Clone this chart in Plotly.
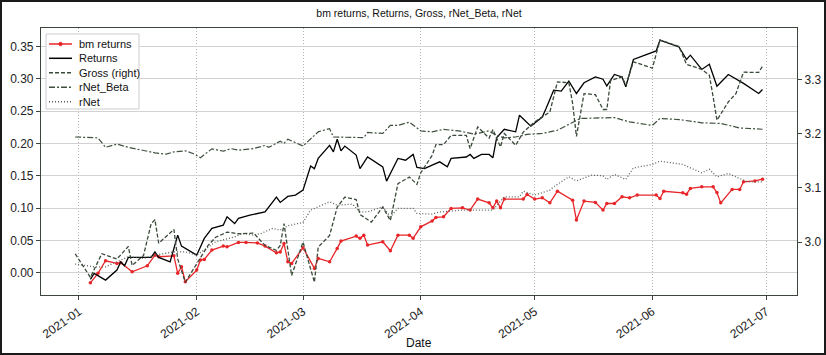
import plotly.graph_objects as go

# ---------------- data ----------------
bm_dates = ["2021-01-04","2021-01-06","2021-01-08","2021-01-11","2021-01-12","2021-01-15","2021-01-19","2021-01-21",
            "2021-01-22","2021-01-26","2021-01-27","2021-01-28","2021-01-29","2021-02-01","2021-02-02","2021-02-03",
            "2021-02-05","2021-02-08","2021-02-09","2021-02-12","2021-02-14","2021-02-17","2021-02-19","2021-02-22",
            "2021-02-23","2021-02-24","2021-02-25","2021-02-26","2021-03-01","2021-03-04","2021-03-05","2021-03-08",
            "2021-03-10","2021-03-11","2021-03-15","2021-03-16","2021-03-17","2021-03-18","2021-03-22","2021-03-24",
            "2021-03-26","2021-03-29","2021-03-30","2021-04-01","2021-04-04","2021-04-05","2021-04-07","2021-04-09",
            "2021-04-12","2021-04-14","2021-04-16","2021-04-19","2021-04-20","2021-04-21","2021-04-22","2021-04-23",
            "2021-04-28","2021-04-29","2021-05-01","2021-05-03","2021-05-05","2021-05-07","2021-05-11","2021-05-12",
            "2021-05-14","2021-05-17","2021-05-19","2021-05-20","2021-05-22","2021-05-24","2021-05-26","2021-05-28",
            "2021-06-02","2021-06-03","2021-06-04","2021-06-09","2021-06-10","2021-06-11","2021-06-14","2021-06-17",
            "2021-06-18","2021-06-19","2021-06-22","2021-06-24","2021-06-25","2021-06-28","2021-06-30"]
bm_returns = [-0.0158,-0.0012,0.0183,0.0142,0.0152,0.0012,0.0105,0.027,
              0.0245,0.026,-0.0012,0.009,-0.0142,0.0039,0.0194,0.0204,
              0.0348,0.041,0.040,0.0467,0.0467,0.046,0.041,0.0307,
              0.032,0.045,0.0167,0.0142,0.0384,0.0065,0.022,0.0167,
              0.0375,0.0488,0.0565,0.053,0.058,0.0426,0.0477,0.0338,
              0.058,0.058,0.053,0.0709,0.080,0.0854,0.0864,0.0994,
              0.1003,0.0968,0.1138,0.108,0.1003,0.111,0.1003,0.1138,
              0.1138,0.121,0.1138,0.1158,0.108,0.126,0.1122,0.0813,
              0.1107,0.1087,0.0968,0.107,0.107,0.1174,0.1158,0.120,
              0.120,0.1148,0.126,0.1235,0.1215,0.1303,0.1328,0.1328,
              0.124,0.108,0.1288,0.1288,0.1406,0.142,0.1447]

ret_dates = ["2021-01-04","2021-01-05","2021-01-08","2021-01-11","2021-01-12","2021-01-13","2021-01-14","2021-01-20",
             "2021-01-21","2021-01-22","2021-01-25","2021-01-27","2021-01-28","2021-02-01","2021-02-03","2021-02-05",
             "2021-02-08","2021-02-09","2021-02-11","2021-02-12","2021-02-15","2021-02-19","2021-02-22","2021-02-23",
             "2021-02-25","2021-02-27","2021-03-01","2021-03-03","2021-03-04","2021-03-05","2021-03-08","2021-03-09",
             "2021-03-10","2021-03-11","2021-03-12","2021-03-15","2021-03-16","2021-03-18","2021-03-22","2021-03-23",
             "2021-03-25","2021-03-26","2021-03-28","2021-03-30","2021-03-31","2021-04-02","2021-04-04","2021-04-06",
             "2021-04-08","2021-04-09","2021-04-13","2021-04-14","2021-04-15","2021-04-17","2021-04-19","2021-04-20",
             "2021-04-21","2021-04-23","2021-04-26","2021-04-27","2021-04-30","2021-05-03","2021-05-04","2021-05-06",
             "2021-05-08","2021-05-10","2021-05-12","2021-05-14","2021-05-17","2021-05-19","2021-05-20","2021-05-22",
             "2021-05-24","2021-05-25","2021-05-27","2021-06-02","2021-06-03","2021-06-08","2021-06-10","2021-06-11",
             "2021-06-14","2021-06-16","2021-06-18","2021-06-21","2021-06-25","2021-06-29","2021-06-30"]
returns = [-0.0105,-0.0013,-0.0116,0.0039,0.0167,0.0105,0.0235,0.0235,
           0.032,0.0235,0.0167,0.058,0.041,0.027,0.053,0.0684,
           0.0735,0.0864,0.076,0.084,0.089,0.094,0.117,0.1087,
           0.118,0.120,0.1277,0.165,0.161,0.1768,0.197,0.187,
           0.2066,0.1886,0.196,0.182,0.161,0.179,0.1638,0.1416,
           0.165,0.1768,0.174,0.183,0.163,0.161,0.1664,0.1715,
           0.1638,0.1768,0.179,0.183,0.1768,0.183,0.183,0.1777,
           0.209,0.222,0.218,0.2438,0.2268,0.241,0.254,0.2825,
           0.281,0.2965,0.2774,0.294,0.303,0.2995,0.289,0.3068,
           0.303,0.2876,0.330,0.3433,0.360,0.3495,0.330,0.3367,
           0.3146,0.3227,0.2887,0.3068,0.293,0.2774,0.2836]

gross_dates = ["2020-12-31","2021-01-04","2021-01-07","2021-01-11","2021-01-14","2021-01-15","2021-01-18","2021-01-20",
               "2021-01-21","2021-01-22","2021-01-26","2021-01-27","2021-01-29","2021-02-01","2021-02-04","2021-02-06",
               "2021-02-09","2021-02-12","2021-02-16","2021-02-19","2021-02-22","2021-02-23","2021-02-24","2021-02-26",
               "2021-03-01","2021-03-04","2021-03-05","2021-03-08","2021-03-10","2021-03-12","2021-03-15","2021-03-16",
               "2021-03-19","2021-03-22","2021-03-24","2021-03-26","2021-03-29","2021-03-31","2021-04-01","2021-04-04",
               "2021-04-05","2021-04-07","2021-04-09","2021-04-13","2021-04-14","2021-04-16","2021-04-19","2021-04-20",
               "2021-04-22","2021-04-23","2021-04-26","2021-04-28","2021-05-01","2021-05-03","2021-05-05","2021-05-07",
               "2021-05-10","2021-05-11","2021-05-12","2021-05-14","2021-05-17","2021-05-19","2021-05-20","2021-05-21",
               "2021-05-24","2021-05-25","2021-05-27","2021-06-01","2021-06-03","2021-06-08","2021-06-10","2021-06-14",
               "2021-06-16","2021-06-17","2021-06-18","2021-06-21","2021-06-23","2021-06-25","2021-06-29","2021-06-30"]
gross = [2.9786,2.935,2.9786,2.969,2.992,2.957,2.9754,3.034,
         3.0414,2.998,3.0235,2.969,2.926,2.960,2.994,3.009,
         3.0185,3.0155,3.0166,2.9939,2.9847,2.9939,3.034,2.9385,
         3.000,2.926,2.9908,3.0124,3.0647,3.083,3.0784,3.051,
         3.037,3.0647,3.040,3.108,3.120,3.1066,3.128,3.160,
         3.180,3.180,3.197,3.197,3.1726,3.2125,3.192,3.2077,
         3.1756,3.2003,3.1787,3.203,3.2218,3.231,3.240,3.2957,
         3.294,3.2557,3.195,3.274,3.272,3.2447,3.2447,3.298,
         3.305,3.2896,3.3326,3.321,3.3727,3.361,3.328,3.3186,
         3.308,3.268,3.225,3.2587,3.274,3.3135,3.313,3.3247]

rnb_dates = ["2020-12-31","2021-01-06","2021-01-08","2021-01-11","2021-01-14","2021-01-17","2021-01-21","2021-01-24",
             "2021-01-26","2021-01-29","2021-01-31","2021-02-02","2021-02-05","2021-02-08","2021-02-10","2021-02-12",
             "2021-02-15","2021-02-16","2021-02-19","2021-02-20","2021-02-23","2021-02-24","2021-02-25","2021-03-01",
             "2021-03-05","2021-03-08","2021-03-09","2021-03-12","2021-03-17","2021-03-18","2021-03-22","2021-03-24",
             "2021-03-26","2021-03-29","2021-04-01","2021-04-04","2021-04-07","2021-04-11","2021-04-15","2021-04-19",
             "2021-04-21","2021-04-23","2021-04-26","2021-04-29","2021-05-03","2021-05-07","2021-05-13","2021-05-19",
             "2021-05-22","2021-05-26","2021-06-01","2021-06-03","2021-06-08","2021-06-14","2021-06-19","2021-06-24",
             "2021-06-30"]
rnet_beta = [0.210,0.2087,0.194,0.199,0.194,0.190,0.1855,0.1834,
             0.187,0.1886,0.1845,0.178,0.1917,0.188,0.192,0.1896,
             0.1907,0.192,0.197,0.194,0.2035,0.200,0.2066,0.196,
             0.218,0.223,0.210,0.210,0.209,0.217,0.2155,0.228,
             0.228,0.233,0.2195,0.218,0.2217,0.2195,0.2144,0.2195,
             0.212,0.2087,0.210,0.214,0.2155,0.2205,0.2387,0.2396,
             0.240,0.2334,0.228,0.2387,0.237,0.232,0.231,0.224,
             0.222]

rnet_dates = ["2020-12-31","2021-01-05","2021-01-08","2021-01-10","2021-01-12","2021-01-14","2021-01-18","2021-01-21",
              "2021-01-26","2021-01-29","2021-02-01","2021-02-04","2021-02-06","2021-02-11","2021-02-13","2021-02-16",
              "2021-02-18","2021-02-21","2021-02-23","2021-02-25","2021-03-01","2021-03-03","2021-03-08","2021-03-10",
              "2021-03-14","2021-03-16","2021-03-18","2021-03-22","2021-03-24","2021-03-26","2021-03-30","2021-03-31",
              "2021-04-04","2021-04-06","2021-04-12","2021-04-20","2021-04-23","2021-04-27","2021-04-28","2021-05-01",
              "2021-05-05","2021-05-06","2021-05-10","2021-05-12","2021-05-16","2021-05-19","2021-05-20","2021-05-22",
              "2021-05-25","2021-05-27","2021-06-01","2021-06-03","2021-06-09","2021-06-14","2021-06-16","2021-06-18",
              "2021-06-21","2021-06-24","2021-06-26","2021-06-30"]
rnet = [0.0132,0.009,0.009,0.0142,0.0194,0.0245,0.022,0.027,
        0.032,0.032,0.027,0.040,0.0477,0.0554,0.0607,0.058,
        0.0607,0.0684,0.0658,0.0725,0.0777,0.0968,0.1096,0.1045,
        0.106,0.094,0.094,0.102,0.0864,0.0994,0.0994,0.0916,
        0.0906,0.094,0.0968,0.0968,0.1174,0.1174,0.126,0.120,
        0.1277,0.1328,0.1483,0.142,0.151,0.150,0.1443,0.152,
        0.1443,0.162,0.1675,0.1726,0.1675,0.1545,0.160,0.1483,
        0.1535,0.1458,0.1406,0.1406]

left_ticks = [0.00, 0.05, 0.10, 0.15, 0.20, 0.25, 0.30, 0.35]
right_ticks = [3.0, 3.1, 3.2, 3.3]
month_ticks = ["2021-01-01","2021-02-01","2021-03-01","2021-04-01","2021-05-01","2021-06-01","2021-07-01"]
month_labels = ["2021-01","2021-02","2021-03","2021-04","2021-05","2021-06","2021-07"]

title_text = "bm returns, Returns, Gross, rNet_Beta, rNet"
x_title = "Date"

# ---------------- styles ----------------
W, H = 826, 355
L, R, T, B = 41, 29, 28, 60
PW, PH = W - L - R, H - T - B
FONT = "Liberation Sans, Arial, sans-serif"
SPINE = "#3c463c"

series = [
    dict(name="bm returns", x=bm_dates, y=bm_returns, axis="y", color="#e8262a", dash="solid", width=1.3, marker=True),
    dict(name="Returns", x=ret_dates, y=returns, axis="y", color="#000000", dash="solid", width=1.3, marker=False),
    dict(name="Gross (right)", x=gross_dates, y=gross, axis="y2", color="#3a4a3a", dash="4px,2px", width=1.3, marker=False),
    dict(name="rNet_Beta", x=rnb_dates, y=rnet_beta, axis="y", color="#3f503f", dash="6px,2px,2px,2px", width=1.2, marker=False),
    dict(name="rNet", x=rnet_dates, y=rnet, axis="y", color="#5a625a", dash="1px,2px", width=1.3, marker=False),
]

fig = go.Figure()
for s in series:
    fig.add_trace(go.Scatter(
        x=s["x"], y=s["y"], name=s["name"], yaxis=s["axis"],
        mode="lines+markers" if s["marker"] else "lines",
        line=dict(color=s["color"], width=s["width"], dash=s["dash"]),
        marker=dict(size=3.5, color=s["color"]) if s["marker"] else None,
        showlegend=False))

def px_x(px):
    return (px - L) / PW

def px_y(py):
    return 1 - (py - T) / PH

fig.update_layout(
    width=W, height=H,
    margin=dict(l=L, r=R, t=T, b=B, pad=0),
    paper_bgcolor="white", plot_bgcolor="white",
    font=dict(family=FONT, size=12, color="#222222"),
    title=dict(text=title_text, x=0.5, xref="paper", y=1 - 13 / H, yref="container",
               xanchor="center", yanchor="middle",
               font=dict(family=FONT, size=10.5, color="#111111")),
    showlegend=False,
    xaxis=dict(type="date", range=["2020-12-22 00:00", "2021-07-09 02:00"], automargin=False,
               tickvals=month_ticks, ticktext=month_labels, tickangle=-35,
               tickfont=dict(size=12), ticks="outside", ticklen=4, tickcolor=SPINE,
               showgrid=True, gridcolor="#b4b4b4", griddash="1px,2px", gridwidth=1,
               showline=True, linecolor=SPINE, linewidth=1.2, mirror=True, zeroline=False),
    yaxis=dict(range=[-0.0347, 0.3788], tickvals=left_ticks, tickformat=".2f", automargin=False,
               tickfont=dict(size=12), ticks="outside", ticklen=4, tickcolor=SPINE,
               showgrid=True, gridcolor="#d2d2d2", gridwidth=1.2,
               showline=True, linecolor=SPINE, linewidth=1.2, zeroline=False),
    yaxis2=dict(range=[2.9025, 3.395], tickvals=right_ticks, tickformat=".1f", automargin=False,
                overlaying="y", side="right", tickfont=dict(size=12),
                ticks="outside", ticklen=4, tickcolor=SPINE, showgrid=False,
                showline=True, linecolor=SPINE, linewidth=1.2, zeroline=False),
)

# x-axis title
fig.add_annotation(text=x_title, xref="paper", yref="paper", x=0.5, y=px_y(343),
                   xanchor="center", yanchor="middle", showarrow=False,
                   font=dict(family=FONT, size=12, color="#111111"))

# legend (drawn by hand to match matplotlib's compact spacing)
fig.add_shape(type="rect", xref="paper", yref="paper",
              x0=px_x(46), x1=px_x(139), y0=px_y(109), y1=px_y(34),
              line=dict(color="#cccccc", width=1), fillcolor="rgba(255,255,255,0.85)", layer="above")
row_y = [44, 58.3, 72.7, 87.3, 101.7]
for s, ry in zip(series, row_y):
    fig.add_shape(type="line", xref="paper", yref="paper",
                  x0=px_x(49), x1=px_x(72), y0=px_y(ry), y1=px_y(ry),
                  line=dict(color=s["color"], width=s["width"] + 0.2, dash=s["dash"]), layer="above")
    if s["marker"]:
        fig.add_shape(type="circle", xref="paper", yref="paper",
                      x0=px_x(58.8), x1=px_x(62.2), y0=px_y(ry + 1.7), y1=px_y(ry - 1.7),
                      line=dict(color=s["color"], width=1), fillcolor=s["color"], layer="above")
    fig.add_annotation(text=s["name"], xref="paper", yref="paper", x=px_x(77), y=px_y(ry),
                       xanchor="left", yanchor="middle", showarrow=False,
                       font=dict(family=FONT, size=11, color="#111111"))

# outer dark frame of the picture
fig.add_shape(type="rect", xref="paper", yref="paper",
              x0=(-L + 1) / PW, x1=1 + (R - 1) / PW, y0=(-B + 1) / PH, y1=1 + (T - 1) / PH,
              line=dict(color="#1a1a1a", width=2), fillcolor="rgba(0,0,0,0)", layer="above")

fig.write_html("out.html", config={"displayModeBar": False},
               post_script="document.body.style.margin='0px';document.body.style.padding='0px';")
